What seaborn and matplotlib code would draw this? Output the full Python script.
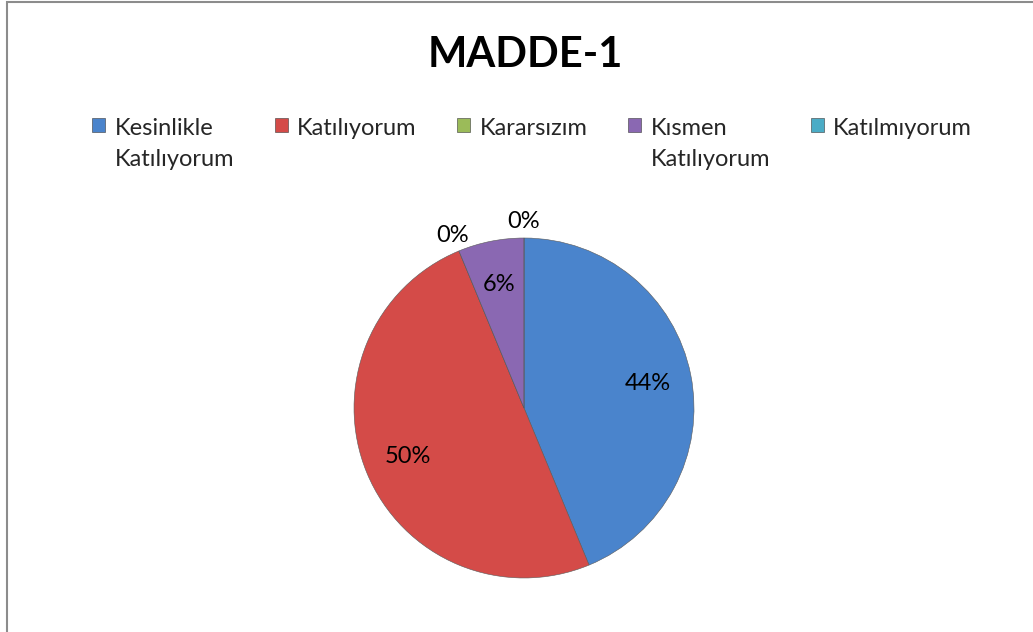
import matplotlib
matplotlib.use("Agg")
import matplotlib.pyplot as plt
from matplotlib.patches import Patch, Rectangle
import seaborn as sns

# survey answers for item 1 (counts, 16 people)
categories = ["Kesinlikle\nKatılıyorum", "Katılıyorum", "Kararsızım",
              "Kısmen\nKatılıyorum", "Katılmıyorum"]
counts = [7, 8, 0, 1, 0]
colors = ["#4A84CC", "#D44B48", "#9BBB59", "#8A68B2", "#4BACC6"]
title = "MADDE-1"

sns.set_theme(style="white")
plt.rcParams["font.family"] = ["Lato", "DejaVu Sans"]

fig = plt.figure(figsize=(10.33, 6.32), dpi=100)
W, H = 1033, 632

# chart area border (only top and left visible in the original crop)
fig.patches.append(Rectangle((6.5 / W, -0.1), 1.2, 1.1 - 2.5 / H, transform=fig.transFigure,
                             fill=False, edgecolor="#8c8c8c", linewidth=1.5))

zero_labels = ["0%" if c == 0 else "" for c in counts]

# pie: radius 170 px around (524, 408)
lim = 1.3
size = 2 * lim * 170
ax = fig.add_axes([524 / W - size / W / 2, 1 - 408 / H - size / H / 2, size / W, size / H])
wedges, texts, autotexts = ax.pie(
    counts, colors=colors, startangle=90, counterclock=False,
    labels=zero_labels, labeldistance=1.1,
    autopct=lambda p: f"{p:.0f}%" if p > 0 else "", pctdistance=0.74,
    wedgeprops=dict(edgecolor="#5a5a5a", linewidth=0.4),
    textprops=dict(fontsize=17, color="black"))
for t in texts:
    t.set_horizontalalignment("center")
    t.set_verticalalignment("center")
ax.set_xlim(-lim, lim)
ax.set_ylim(-lim, lim)
ax.set_aspect("equal")
ax.axis("off")

fig.text(525 / W, 1 - 55 / H, title, ha="center", va="center",
         fontsize=30, fontweight="bold", color="black")

handles = [Patch(facecolor=c, edgecolor="#3a3a3a", linewidth=0.4) for c in colors]
leg = fig.legend(handles, categories, loc="upper left", ncol=5,
                 bbox_to_anchor=(92 / W, 1 - 118 / H), frameon=False,
                 fontsize=17, handlelength=0.55, handleheight=0.55,
                 handletextpad=0.4, columnspacing=1.72, borderpad=0, borderaxespad=0)
for t in leg.get_texts():
    t.set_linespacing(1.6)
# put the square next to the first line of wrapped labels
leg._legend_handle_box.align = "top"
for col in leg._legend_handle_box.get_children():
    col.align = "left"
    for entry in col.get_children():
        entry.align = "top"

fig.savefig("out.png", dpi=100, facecolor="white")
